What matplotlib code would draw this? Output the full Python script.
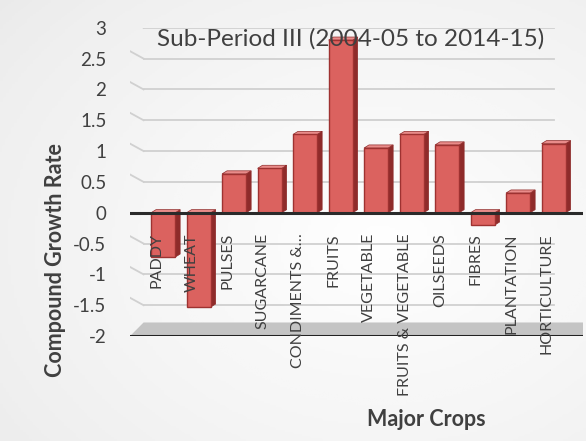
import numpy as np
import matplotlib.pyplot as plt
from matplotlib.patches import Polygon

# ── data ──────────────────────────────────
crops = ['PADDY', 'WHEAT', 'PULSES', 'SUGARCANE', 'CONDIMENTS &…', 'FRUITS',
         'VEGETABLE', 'FRUITS & VEGETABLE', 'OILSEEDS', 'FIBRES', 'PLANTATION',
         'HORTICULTURE']
growth = [-0.72, -1.53, 0.63, 0.72, 1.27, 2.80, 1.05, 1.27, 1.10, -0.20, 0.32, 1.12]
yticks = [3, 2.5, 2, 1.5, 1, 0.5, 0, -0.5, -1, -1.5, -2]

plt.rcParams['font.family'] = ['Lato', 'DejaVu Sans']
TXT = '#404040'
FACE = '#db625f'
SIDE = '#8e2b2a'
TOP = '#e98c8a'

fig = plt.figure(figsize=(5.86, 4.41), dpi=100)

# grey gradient background
bg = fig.add_axes([0, 0, 1, 1], zorder=0)
yy, xx = np.mgrid[0:1:200j, 0:1:200j]
r = np.sqrt((xx - 0.65) ** 2 + (yy - 0.55) ** 2)
bg.imshow(1 - 0.8 * r, cmap='Greys_r', vmin=-3.5, vmax=1.02, aspect='auto',
          extent=[0, 1, 0, 1])
bg.axis('off')

ax = fig.add_axes([0.222, 0.238, 0.773, 0.699], zorder=1)
ax.patch.set_alpha(0)
x = np.arange(len(crops))
ax.set_xlim(-0.93, 11.83)
ax.set_ylim(-2, 3)

# gridlines (back wall, with a little 3D slant at the left)
for t in yticks[:-1]:
    if t == 0:
        continue
    ax.plot([-0.55, 11.0], [t, t], color='#d0d0d0', lw=1.3, zorder=1)
    ax.plot([-0.93, -0.55], [t + 0.12, t], color='#d0d0d0', lw=1.3, zorder=1)

# floor (slanted grey band)
ax.add_patch(Polygon([[-0.93, -2], [-0.55, -1.78], [11.83, -1.78], [11.83, -2]],
                     closed=True, facecolor='#c4c4c4', edgecolor='none', zorder=1))
ax.axhline(-2, color='#222222', lw=2.2, zorder=4)

# bars with a simple 3D side/top
w = 0.68
dx, dy = 0.14, 0.05
for xi, v in zip(x, growth):
    left, right = xi - w / 2, xi + w / 2
    ax.add_patch(Polygon([[right, 0], [right + dx, dy], [right + dx, v + dy], [right, v]],
                         closed=True, facecolor=SIDE, edgecolor=SIDE, lw=0.5, zorder=2))
    top_v = max(v, 0)
    ax.add_patch(Polygon([[left, top_v], [left + dx, top_v + dy], [right + dx, top_v + dy],
                          [right, top_v]], closed=True, facecolor=TOP, edgecolor=SIDE,
                         lw=0.5, zorder=2))
ax.bar(x, growth, width=w, color=FACE, edgecolor='#9e3231', lw=1.0, zorder=3)

ax.axhline(0, color='#2a2a2a', lw=2.2, zorder=4)

# category labels hanging below the zero line
for xi, name in zip(x, crops):
    ax.text(xi - 0.2, -0.33, name, rotation=90, ha='center', va='top',
            fontsize=11.5, color=TXT, zorder=5)

ax.set_yticks(yticks)
ax.set_yticklabels([f'{t:g}' for t in yticks], fontsize=13.5, color=TXT)
ax.set_xticks([])
ax.tick_params(axis='y', length=0, pad=17)
for s in ax.spines.values():
    s.set_visible(False)

ax.text(0.487, 0.965, 'Sub-Period III (2004-05 to 2014-15)', transform=ax.transAxes,
        ha='center', va='center', fontsize=17.5, color=TXT, zorder=5)
fig.text(0.094, 0.41, 'Compound Growth Rate', rotation=90, ha='center', va='center',
         fontsize=15.5, fontweight='bold', color=TXT)
fig.text(0.728, 0.048, 'Major Crops', ha='center', va='center',
         fontsize=15.5, fontweight='bold', color=TXT)

plt.savefig('out.png', dpi=100)
